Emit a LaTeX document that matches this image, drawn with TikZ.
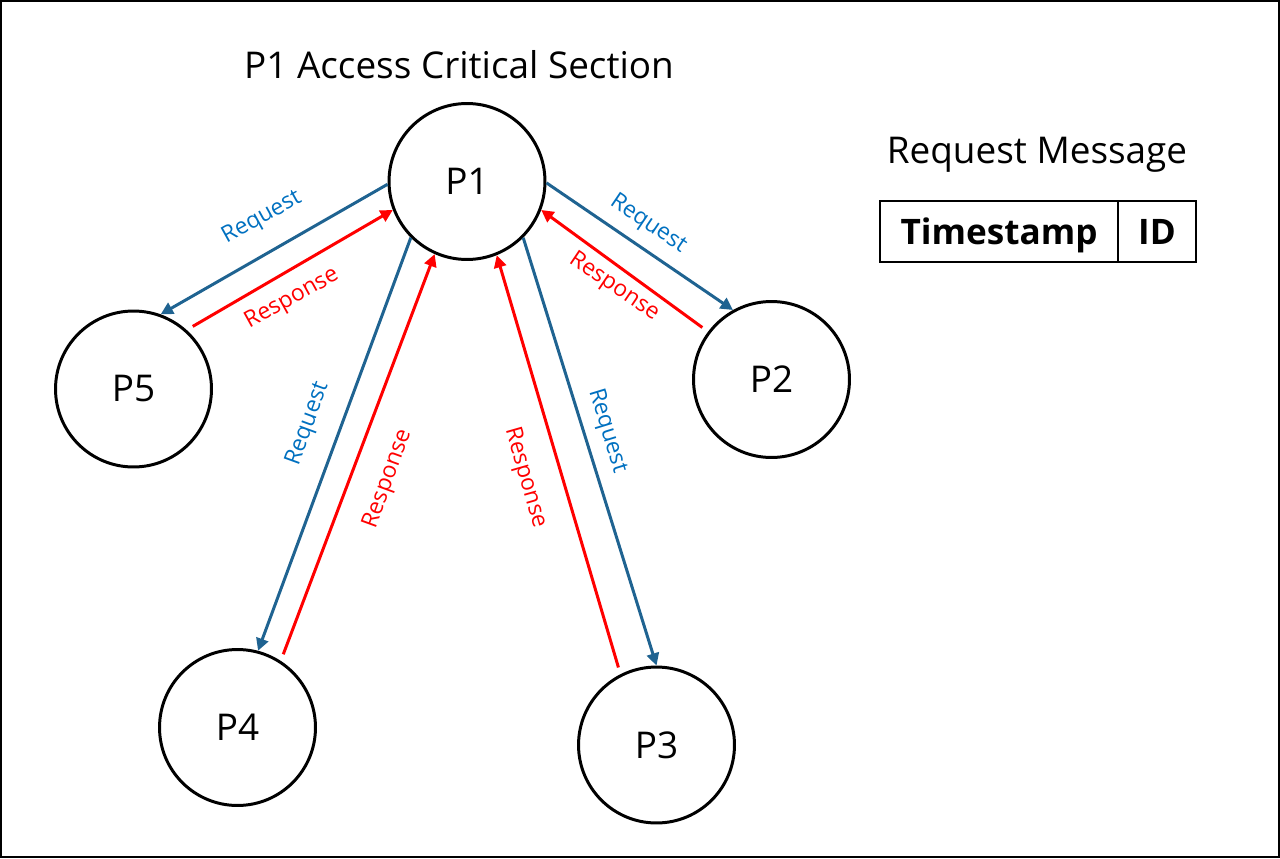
\documentclass[tikz,border=0pt]{standalone}
\usepackage{fontspec}
\setmainfont{Open Sans}
\usetikzlibrary{arrows.meta}
\usepackage{xcolor}
\definecolor{reqline}{HTML}{1F6391}
\definecolor{reqtext}{HTML}{0070C0}

\begin{document}
\begin{tikzpicture}[x=0.02cm, y=-0.02cm,
    proc/.style={circle, draw, line width=1.7pt, minimum size=3.12cm, inner sep=0pt, font=\fontsize{21}{25}\selectfont},
    cell/.style={draw, line width=0.9pt, minimum height=1.22cm, inner sep=0pt, text height=14.3pt, text depth=0pt, font=\fontsize{20}{24}\selectfont\bfseries},
    req/.style={draw=reqline, line width=1.7pt, -{Triangle[length=7pt,width=7pt]}},
    resp/.style={draw=red, line width=1.7pt, -{Triangle[length=7pt,width=7pt]}, shorten <=4pt},
    reqlabel/.style={text=reqtext, font=\fontsize{13}{15}\selectfont},
    resplabel/.style={text=red, font=\fontsize{13}{15}\selectfont}]
    \useasboundingbox (0,0) rectangle (1280,858);
    \draw[line width=1.5pt] (1,1) rectangle (1279,857);
    \node[font=\fontsize{21}{25}\selectfont] (title) at (459,65) {P1 Access Critical Section};
    \node[proc] (P1) at (467,181.5) {P1};
    \node[proc] (P2) at (771.5,379.5) {P2};
    \node[proc] (P3) at (656.5,745) {P3};
    \node[proc] (P4) at (237.5,727.5) {P4};
    \node[proc] (P5) at (133.5,389) {P5};
        \draw[req] (P1.182) -- (P5.70);
        \draw[resp] (P5.48) -- (P1.201);
        \draw[req] (P1.359) -- (P2.119);
        \draw[resp] (P2.143) -- (P1.339);
        \draw[req] (P1.225) -- (P4.75);
        \draw[resp] (P4.57) -- (P1.246);
        \draw[req] (P1.315) -- (P3.90);
        \draw[resp] (P3.117) -- (P1.292);
    \node[reqlabel, rotate=29] (rq5) at (262,218) {Request};
    \node[resplabel, rotate=29] (rs5) at (292,299) {Response};
    \node[reqlabel, rotate=-34] (rq2) at (648,224) {Request};
    \node[resplabel, rotate=-34] (rs2) at (614,287) {Response};
    \node[reqlabel, rotate=70] (rq4) at (308,424) {Request};
    \node[resplabel, rotate=70] (rs4) at (388,479) {Response};
    \node[reqlabel, rotate=-73] (rq3) at (607,431) {Request};
    \node[resplabel, rotate=-74] (rs3) at (525,478) {Response};
    \node[font=\fontsize{21}{25}\selectfont] (msg) at (1037,155) {Request Message};
    \node[cell, minimum width=4.76cm] (ts) at (999,231.5) {Timestamp};
    \node[cell, minimum width=1.56cm] (id) at (1157,231.5) {ID};
\end{tikzpicture}
\end{document}
